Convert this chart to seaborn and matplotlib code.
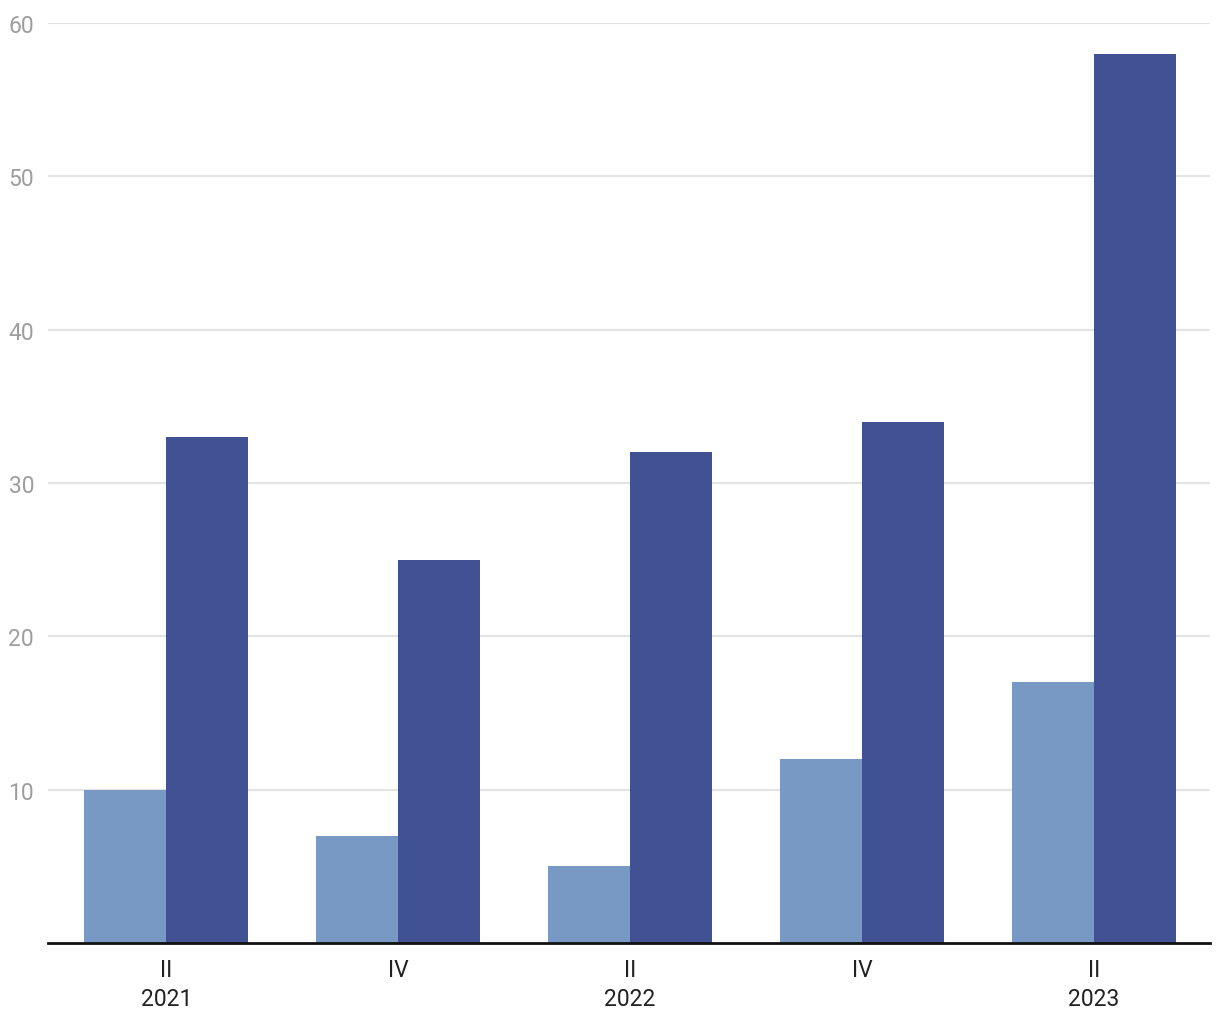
import matplotlib
matplotlib.use("Agg")
import matplotlib.pyplot as plt
import seaborn as sns
import pandas as pd

period_ids = ["2021-II", "2021-IV", "2022-II", "2022-IV", "2023-II"]
tick_labels = ["II\n2021", "IV", "II\n2022", "IV", "II\n2023"]
series_names = ["A", "B"]
light_values = [10, 7, 5, 12, 17]
dark_values = [33, 25, 32, 34, 58]
y_ticks = [10, 20, 30, 40, 50, 60]

df = pd.DataFrame({
    "period": period_ids * 2,
    "series": [series_names[0]] * 5 + [series_names[1]] * 5,
    "value": light_values + dark_values,
})

sns.set_theme(style="white")
plt.rcParams['font.family'] = ['Roboto', 'DejaVu Sans']

fig = plt.figure(figsize=(12.2, 10.2), dpi=100)
ax = fig.add_axes([48/1220, 1 - 944/1020, (1210-48)/1220, (944-24)/1020])

sns.barplot(data=df, x="period", y="value", hue="series", order=period_ids,
            palette=["#7799C4", "#415294"], width=0.707, saturation=1,
            ax=ax, legend=False, linewidth=0, errorbar=None)

ax.set_xlim(-0.51, 4.5)
ax.set_ylim(0, 60)
ax.set_yticks(y_ticks)
ax.set_xticks(range(len(tick_labels)))
ax.set_xticklabels(tick_labels, linespacing=1.3)
ax.yaxis.grid(True, color="#e3e3e3", linewidth=1.5)
ax.set_axisbelow(True)
for s in ["top", "right", "left"]:
    ax.spines[s].set_visible(False)
ax.spines["bottom"].set_color("#111111")
ax.spines["bottom"].set_linewidth(2)
ax.set_xlabel("")
ax.set_ylabel("")
ax.tick_params(axis="y", length=0, pad=10, labelsize=16.5, labelcolor="#9e9e9e")
ax.tick_params(axis="x", length=0, pad=11, labelsize=16.5, labelcolor="#222222")

fig.savefig("out.png", dpi=100)
